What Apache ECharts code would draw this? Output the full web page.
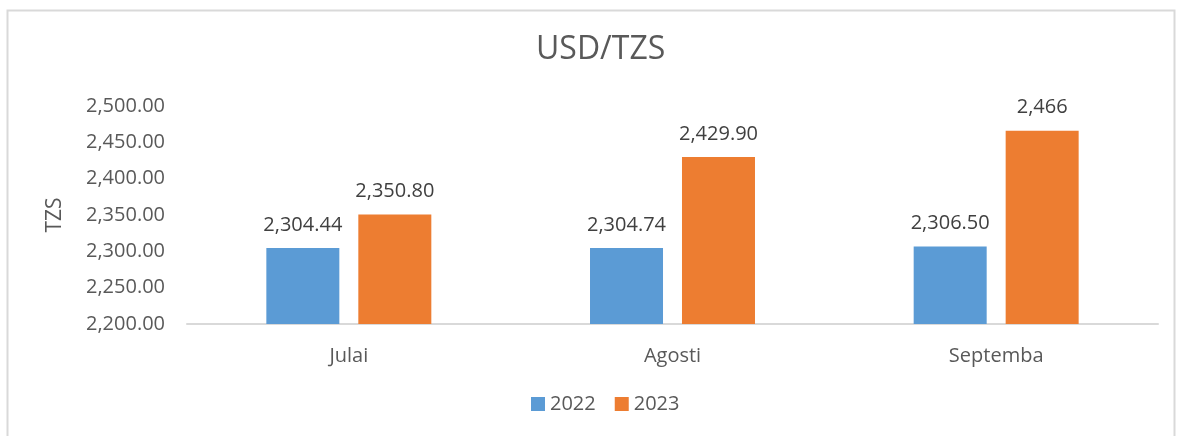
<!DOCTYPE html>
<html>
<head>
<meta charset="utf-8">
<script src="https://cdn.jsdelivr.net/npm/echarts@6/dist/echarts.min.js"></script>
<style>
  html, body { margin: 0; padding: 0; background: #fff; }
  #main { width: 1182px; height: 436px; }
</style>
</head>
<body>
<div id="main"></div>
<script>
// data
let months = ['Julai', 'Agosti', 'Septemba'],
    years = ['2022', '2023'],
    rate2022 = [2304.44, 2304.74, 2306.50],
    rate2023 = [2350.80, 2429.90, 2466],
    yTicks = [2200, 2250, 2300, 2350, 2400, 2450, 2500];

let font = '"Open Sans", "Noto Sans", sans-serif';

// 2,466 stays without decimals like the source
function fmtLabel(v) {
    if (Number.isInteger(v)) return v.toLocaleString('en-US');
    return v.toLocaleString('en-US', {minimumFractionDigits: 2, maximumFractionDigits: 2});
}

let myChart = echarts.init(document.getElementById('main'));

myChart.setOption({
    animation: false,
    color: ['#5b9bd5', '#ed7d31'],
    textStyle: { fontFamily: font },
    graphic: [{
        type: 'rect',
        shape: { x: 7.5, y: 10.5, width: 1167, height: 440 },
        style: { fill: null, stroke: '#d9d9d9', lineWidth: 2 },
        silent: true
    }],
    title: {
        text: 'USD/TZS',
        left: 531,
        top: 29,
        textStyle: { fontFamily: font, fontSize: 32, fontWeight: 'normal', color: '#595959' }
    },
    legend: {
        data: years,
        bottom: 17,
        left: 526,
        itemWidth: 14,
        itemHeight: 14,
        itemGap: 19,
        icon: 'rect',
        textStyle: { fontFamily: font, fontSize: 20, color: '#595959' }
    },
    grid: { left: 187, right: 24, top: 106, bottom: 112 },
    xAxis: {
        type: 'category',
        data: months,
        axisLine: { lineStyle: { color: '#d9d9d9', width: 2 } },
        axisTick: { show: false },
        axisLabel: { fontFamily: font, fontSize: 20, color: '#595959', margin: 22 }
    },
    yAxis: {
        type: 'value',
        min: yTicks[0],
        max: yTicks[yTicks.length - 1],
        interval: 50,
        name: 'TZS',
        nameLocation: 'middle',
        nameGap: 121,
        nameTextStyle: { fontFamily: font, fontSize: 21, color: '#595959' },
        splitLine: { show: false },
        axisLine: { show: false },
        axisTick: { show: false },
        axisLabel: {
            fontFamily: font, fontSize: 20, color: '#595959', margin: 22,
            formatter: v => v.toLocaleString('en-US', {minimumFractionDigits: 2, maximumFractionDigits: 2})
        }
    },
    series: [rate2022, rate2023].map((arr, i) => ({
        name: years[i],
        type: 'bar',
        data: arr,
        barWidth: 73,
        barGap: '26%',
        label: {
            show: true,
            position: 'top',
            distance: 13,
            fontFamily: font,
            fontSize: 20,
            color: '#404040',
            formatter: p => fmtLabel(p.value)
        }
    }))
});
</script>
</body>
</html>
